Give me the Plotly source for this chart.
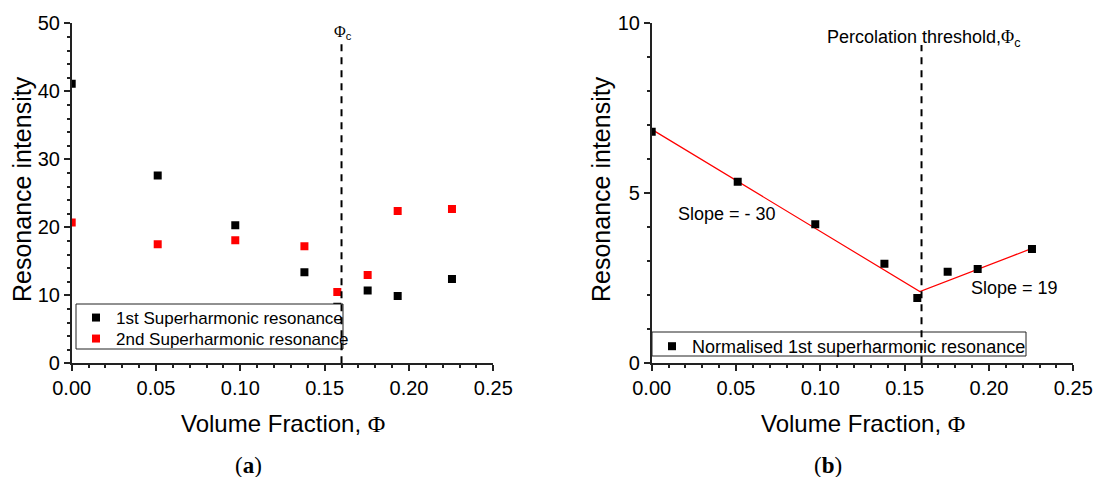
import plotly.graph_objects as go

# ---------------- data ----------------
phi = [0.0, 0.051, 0.097, 0.138, 0.1575, 0.1755, 0.1933, 0.2255]
first_sh = [41.1, 27.6, 20.3, 13.4, 8.3, 10.7, 9.9, 12.4]
second_sh = [20.7, 17.5, 18.1, 17.2, 10.5, 13.0, 22.4, 22.7]
normalised = [6.81, 5.34, 4.09, 2.93, 1.92, 2.69, 2.77, 3.36]
fit_x = [0.0, 0.159, 0.2255]
fit_y = [6.88, 2.11, 3.38]
phi_c = 0.16

W, H = 1096, 477
def px(x):
    return x / W
def py(y):
    return 1 - y / H

SANS = "Liberation Sans, Arial, sans-serif"
SERIF = "Liberation Serif, Times New Roman, serif"

fig = go.Figure()

fig.add_trace(go.Scatter(x=phi, y=first_sh, mode="markers", name="1st Superharmonic resonance",
                         marker=dict(symbol="square", size=8, color="black"),
                         xaxis="x", yaxis="y", legend="legend"))
fig.add_trace(go.Scatter(x=phi, y=second_sh, mode="markers", name="2nd Superharmonic resonance",
                         marker=dict(symbol="square", size=8, color="#ff0000"),
                         xaxis="x", yaxis="y", legend="legend3"))
fig.add_trace(go.Scatter(x=fit_x, y=fit_y, mode="lines", showlegend=False,
                         line=dict(color="#ff0000", width=1.2),
                         xaxis="x2", yaxis="y2"))
fig.add_trace(go.Scatter(x=phi, y=normalised, mode="markers", name="Normalised 1st superharmonic resonance",
                         marker=dict(symbol="square", size=8, color="black"),
                         xaxis="x2", yaxis="y2", legend="legend2"))

axis_common = dict(showline=True, linecolor="#222", linewidth=1.5, ticks="outside",
                   ticklen=6, tickwidth=1.5, tickcolor="#222", showgrid=False, zeroline=False,
                   automargin=False, tickfont=dict(family=SANS, size=20, color="black"))

ydom = [py(363.3), py(23.3)]

leg_common = dict(xanchor="left", yanchor="top", bgcolor="rgba(0,0,0,0)", borderwidth=0,
                  itemwidth=30)

fig.update_layout(
    width=W, height=H, template="none",
    margin=dict(l=0, r=0, t=0, b=0),
    paper_bgcolor="white", plot_bgcolor="white",
    xaxis=dict(domain=[px(71.7), px(493.3)], range=[0, 0.25], dtick=0.05, tickformat=".2f",
               anchor="y", minor=dict(dtick=0.01, ticks="outside", ticklen=3, tickcolor="#222"),
               **axis_common),
    yaxis=dict(domain=ydom, range=[0, 50], dtick=10, anchor="x",
               minor=dict(dtick=2, ticks="outside", ticklen=3, tickcolor="#222"),
               **axis_common),
    xaxis2=dict(domain=[px(651.7), px(1073.3)], range=[0, 0.25], dtick=0.05, tickformat=".2f",
                anchor="y2", minor=dict(dtick=0.01, ticks="outside", ticklen=3, tickcolor="#222"),
                **axis_common),
    yaxis2=dict(domain=ydom, range=[0, 10], dtick=5, anchor="x2",
                minor=dict(dtick=1, ticks="outside", ticklen=3, tickcolor="#222"),
                **axis_common),
    legend=dict(x=px(76), y=py(300), font=dict(family=SANS, size=17, color="black"), **leg_common),
    legend3=dict(x=px(76), y=py(321), font=dict(family=SANS, size=17, color="black"), **leg_common),
    legend2=dict(x=px(652), y=py(328), font=dict(family=SANS, size=18, color="black"), **leg_common),
    showlegend=True,
)

# legend frames
fig.add_shape(type="rect", xref="paper", yref="paper", x0=px(76), x1=px(343), y0=py(349), y1=py(304),
              line=dict(color="#222", width=1), fillcolor="white", layer="above")
fig.add_shape(type="rect", xref="paper", yref="paper", x0=px(652), x1=px(1026), y0=py(356), y1=py(332),
              line=dict(color="#222", width=1), fillcolor="white", layer="above")

dash = dict(color="black", width=2, dash="7px,6px")
fig.add_shape(type="line", xref="x", yref="y", x0=phi_c, x1=phi_c, y0=0, y1=47.8, line=dash, layer="above")
fig.add_shape(type="line", xref="x2", yref="y2", x0=phi_c, x1=phi_c, y0=0, y1=9.36, line=dash, layer="above")

def ann(text, x, y, size, family=SANS, angle=0, xanchor="center"):
    fig.add_annotation(text=text, x=px(x), y=py(y), xref="paper", yref="paper",
                       showarrow=False, textangle=angle, xanchor=xanchor, yanchor="middle",
                       font=dict(family=family, size=size, color="black"))

# axis titles
ann("Resonance intensity", 22, 189, 25, angle=-90)
ann("Resonance intensity", 601, 189, 25, angle=-90)
ann("Volume Fraction, <span style='font-family:Liberation Serif'>Φ</span>", 282.5, 423, 24)
ann("Volume Fraction, <span style='font-family:Liberation Serif'>Φ</span>", 862.5, 423, 24)
# panel labels
ann("(<b>a</b>)", 248, 465, 23, family=SERIF)
ann("(<b>b</b>)", 827.5, 465, 23, family=SERIF)
# other texts
ann("<span style='font-family:Liberation Serif'>Φ</span><sub>c</sub>", 343, 33, 16)
ann("Percolation threshold,<span style='font-family:Liberation Serif'>Φ</span><sub>c</sub>", 924, 38, 18)
ann("Slope = - 30", 727, 214, 18)
ann("Slope = 19", 1014, 288, 18)

fig.write_html("out.html")
